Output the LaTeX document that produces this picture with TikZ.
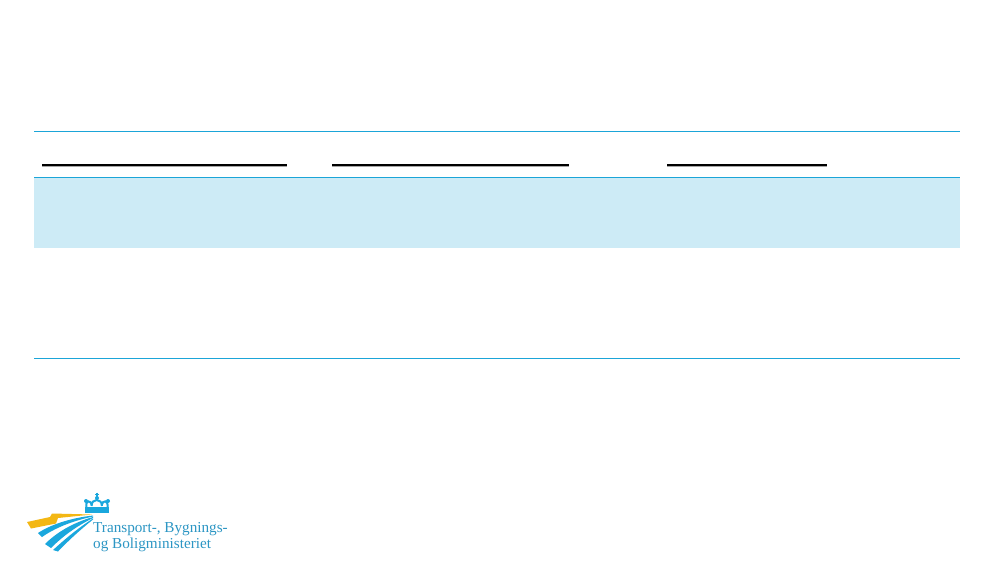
\documentclass[tikz,border=0pt]{standalone}
\usepackage{fontspec}
\setmainfont{Liberation Serif}
\usepackage{tikz}
\usetikzlibrary{positioning,calc}

\definecolor{rulecol}{HTML}{1BA5D8}
\definecolor{rowcol}{HTML}{CDEBF6}
\definecolor{logoblue}{HTML}{1AA7DD}
\definecolor{logoyellow}{HTML}{F3B714}
\definecolor{logotxt}{HTML}{2C96C4}

\tikzset{
    tabline/.style={draw=rulecol, line width=1.4pt},
    headline/.style={draw=black, line width=2pt},
    headshadow/.style={draw=black!35, line width=1pt},
    crownarc/.style={draw=logoblue, line width=2pt},
    logotext/.style={inner sep=0pt, anchor=base west, text=logotxt, font=\fontsize{15.2}{17}\selectfont},
}

\begin{document}
\begin{tikzpicture}[x=1pt, y=-1pt]

    \useasboundingbox[fill=white] (0,0) rectangle (1000,563);

    % table frame
    \coordinate (TL) at (34,131.5);
    \coordinate (TR) at (960,131.5);
    \coordinate (RL) at (34,177.5);
    \coordinate (RR) at (960,247.5);
    \coordinate (BL) at (34,358.5);
    \coordinate (BR) at (960,358.5);

    \fill[rowcol] (RL) rectangle (RR);
    \draw[tabline] (TL) -- (TR);
    \draw[tabline] (RL) -- (RL-|RR);
    \draw[tabline] (BL) -- (BR);

    % column heads
    \foreach \a/\b in {42/287, 332/569, 667/827} {
        \draw[headshadow] (\a,166) -- (\b,166);
        \draw[headline] (\a,164.5) -- (\b,164.5);
    }

    % logo
    \fill[logoyellow] (27,522) -- (50,517) -- (52,513.5) -- (92,514.5)
        -- (58,518) -- (56,523.5) -- (31,528.5) -- cycle;
    \fill[logoblue] (93,515.5) .. controls (70,518) and (50,525) .. (38,533)
        -- (42,537) .. controls (55,528) and (72,521) .. (93,516.5) -- cycle;
    \fill[logoblue] (93,517) .. controls (72,523) and (56,533) .. (45,544)
        -- (51,548) .. controls (62,537) and (75,527) .. (93,518) -- cycle;
    \fill[logoblue] (93,518.5) .. controls (78,528) and (64,540) .. (53,550)
        -- (58,551.5) .. controls (68,541) and (80,530) .. (93,519.5) -- cycle;

    % crown
    \fill[logoblue] (85,507) rectangle (109,512.5);
    \draw[crownarc] (86.5,507) .. controls (85,500) and (91,499.5) .. (92,505.5);
    \draw[crownarc] (91.5,506) .. controls (91.5,498) and (102,498) .. (102,506);
    \draw[crownarc] (101.5,505.5) .. controls (102.5,499.5) and (108.5,500) .. (107.5,507);
    \fill[logoblue] (86,501) circle (2);
    \fill[logoblue] (108,501) circle (2);
    \fill[logoblue] (97,498) circle (2);
    \draw[logoblue, line width=1.4pt] (97,492.5) -- (97,497);
    \draw[logoblue, line width=1.4pt] (95,494.3) -- (99,494.3);

    \node[logotext] (ministry1) at (93,532.5) {Transport-, Bygnings-};
    \node[logotext] (ministry2) at (93,548.5) {og Boligministeriet};

\end{tikzpicture}
\end{document}
